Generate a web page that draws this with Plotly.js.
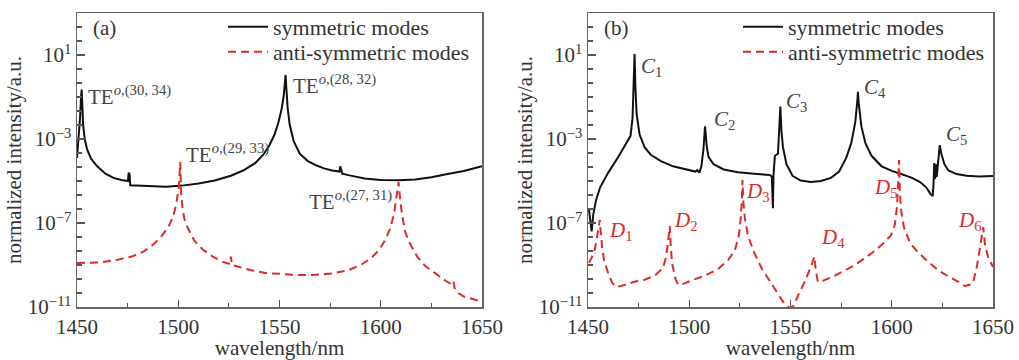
<!DOCTYPE html>
<html>
<head>
<meta charset="utf-8">
<script src="https://cdn.plot.ly/plotly-3.0.1.min.js"></script>
<style>html,body{margin:0;padding:0;background:#fff;}#chart{width:1019px;height:360px;}</style>
</head>
<body>
<div id="chart"></div>
<script>
// ---- Panel (a): symmetric modes (wavelength nm, log10 intensity)
var symA_x = [1450.0,1450.8,1451.5,1452.0,1452.3,1452.6,1453.0,1453.8,1455,1457,1460,1464,1468,1472,1475.2,1475.5,1476.0,1476.3,1480,1486,1494,1502,1510,1518,1526,1532,1538,1542,1545,1547.5,1549.5,1551,1552,1552.6,1553,1553.4,1554,1555,1557,1560,1564,1568,1572,1576,1579.6,1580,1580.5,1581,1584,1592,1600,1609,1617,1625,1633,1641,1650];
var symA_log = [-3.9,-3.0,-2.0,-1.0,-0.65,-1.3,-2.3,-3.0,-3.5,-3.95,-4.3,-4.65,-4.85,-4.95,-5.0,-4.6,-4.7,-5.2,-5.22,-5.25,-5.27,-5.22,-5.12,-4.98,-4.75,-4.5,-4.15,-3.75,-3.3,-2.8,-2.2,-1.6,-1.0,-0.4,0.05,-0.6,-1.5,-2.3,-3.1,-3.7,-4.05,-4.25,-4.4,-4.5,-4.55,-4.3,-4.45,-4.65,-4.72,-4.88,-4.95,-4.97,-4.93,-4.82,-4.67,-4.52,-4.3];

// ---- Panel (a): anti-symmetric modes
var antiA_x = [1450,1455,1461,1470,1477,1483,1488,1492,1495,1497.5,1499,1500.3,1501,1501.4,1502,1503,1505,1508,1512,1517,1522,1525.5,1526,1526.5,1530,1536,1543,1552,1560,1568,1576,1584,1590,1595,1599,1602,1604.5,1606.5,1607.8,1608.8,1609.5,1610.5,1612,1614,1618,1622,1627,1632,1635.5,1636,1636.5,1638.5,1641,1645,1650];
var antiA_log = [-8.9,-8.9,-8.88,-8.75,-8.6,-8.35,-8.0,-7.6,-7.2,-6.7,-6.1,-5.3,-4.1,-5.5,-6.2,-6.8,-7.3,-7.85,-8.25,-8.6,-8.85,-8.95,-8.6,-9.0,-9.1,-9.25,-9.38,-9.45,-9.48,-9.47,-9.4,-9.25,-9.0,-8.7,-8.3,-7.85,-7.3,-6.6,-5.8,-5.05,-5.8,-6.6,-7.4,-7.9,-8.6,-9.05,-9.4,-9.75,-9.95,-9.8,-10.1,-10.35,-10.5,-10.62,-10.75];

// ---- Panel (b): symmetric modes
var symB_x = [1450.4,1451.2,1451.8,1452.6,1454,1456,1460,1465,1469,1471,1472,1472.6,1473,1473.4,1474,1475.5,1478,1481,1486,1492,1498,1503,1504,1505,1506,1507,1507.8,1508.6,1509.5,1512,1517,1524,1532,1540,1540.8,1541.3,1541.6,1542.3,1543.8,1544.5,1545,1545.5,1546.3,1548,1551,1555,1560,1565,1570,1574,1577.5,1580,1582,1583,1583.3,1583.7,1585,1587,1590,1595,1600,1605,1610,1614,1617,1619,1620.2,1620.6,1621,1621.4,1621.8,1622.2,1623,1623.7,1624.5,1626,1628,1632,1637,1643,1650];
var symB_log = [-6.3,-7.0,-7.4,-6.6,-5.9,-5.3,-4.6,-3.85,-3.2,-2.85,-2.0,-0.5,1.05,-0.5,-1.8,-2.8,-3.4,-3.75,-4.05,-4.3,-4.45,-4.55,-4.48,-4.6,-4.3,-3.5,-2.4,-3.3,-3.85,-4.2,-4.45,-4.58,-4.65,-4.72,-4.8,-6.3,-4.7,-3.8,-3.7,-2.5,-1.45,-2.6,-3.4,-4.2,-4.75,-4.98,-5.05,-5.0,-4.85,-4.55,-3.9,-3.2,-2.2,-1.2,-0.75,-1.3,-2.4,-3.2,-3.8,-4.3,-4.52,-4.68,-4.85,-5.05,-5.3,-5.6,-5.72,-5.2,-4.15,-4.9,-4.2,-4.8,-3.9,-3.3,-3.7,-4.2,-4.5,-4.67,-4.75,-4.78,-4.76];

// ---- Panel (b): anti-symmetric modes
var antiB_x = [1450.5,1452,1453.5,1454.5,1455.3,1455.8,1456.3,1457,1458,1460,1462,1464,1468,1473,1478,1483,1487,1488.3,1489,1490,1490.4,1490.8,1491.5,1493,1494.5,1497,1502,1508,1514,1519,1522.5,1524.5,1525.5,1526,1526.3,1526.7,1527.5,1529,1532,1536,1540,1544,1547,1549.5,1551.5,1554,1557,1560,1561.8,1562.4,1563.5,1566,1571,1576,1581,1587,1592,1596,1599.5,1601.5,1602.6,1603.2,1603.6,1604,1604.6,1606,1609,1613,1618,1623,1628,1633,1636,1638,1640,1642,1643.5,1644.5,1645.2,1646,1647.5,1650];
var antiB_log = [-8.9,-8.6,-8.2,-7.7,-7.2,-6.85,-7.6,-8.2,-8.8,-9.4,-9.85,-10.05,-9.95,-9.8,-9.7,-9.5,-9.15,-8.7,-8.3,-7.5,-7.15,-8.0,-8.9,-9.6,-9.95,-9.9,-9.7,-9.5,-9.2,-8.8,-8.3,-7.6,-6.7,-5.8,-4.95,-6.0,-6.8,-7.6,-8.4,-9.2,-9.8,-10.4,-10.85,-11.05,-10.95,-10.4,-9.8,-9.1,-8.6,-9.2,-9.8,-9.75,-9.55,-9.3,-9.05,-8.65,-8.3,-7.95,-7.6,-7.1,-6.2,-5.0,-4.0,-5.5,-6.4,-7.2,-7.95,-8.4,-8.85,-9.25,-9.55,-9.8,-10.0,-9.95,-9.9,-9.1,-8.3,-7.6,-7.2,-8.0,-8.6,-9.1];

// ---- Tick labels
var xTickVals = [1450,1500,1550,1600,1650];
var xTickText = ['1450','1500','1550','1600','1650'];
var yMajorExp = [1,-3,-7,-11];
var yTickText = ['10<sup>1</sup>','10<sup>\u22123</sup>','10<sup>\u22127</sup>','10<sup>\u221211</sup>'];

// ---- Annotation labels
var teLabels = ['TE<sup><i>o</i>,(30, 34)</sup>','TE<sup><i>o</i>,(28, 32)</sup>','TE<sup><i>o</i>,(29, 33)</sup>','TE<sup><i>o</i>,(27, 31)</sup>'];
var teX = [1454.6, 1555.6, 1502.8, 1563.5];
var teY = [-0.95, -0.4, -3.67, -5.95];
var cLabels = ['<i>C</i><sub>1</sub>','<i>C</i><sub>2</sub>','<i>C</i><sub>3</sub>','<i>C</i><sub>4</sub>','<i>C</i><sub>5</sub>'];
var cX = [1475.3, 1511.3, 1547.0, 1585.5, 1626.0];
var cY = [0.43, -2.1, -1.24, -0.57, -2.8];
var dLabels = ['<i>D</i><sub>1</sub>','<i>D</i><sub>2</sub>','<i>D</i><sub>3</sub>','<i>D</i><sub>4</sub>','<i>D</i><sub>5</sub>','<i>D</i><sub>6</sub>'];
var dX = [1459.5, 1491.6, 1527.2, 1564.2, 1590.3, 1631.6];
var dY = [-7.4, -6.9, -5.5, -7.7, -5.35, -6.9];

function pw(a){ return a.map(function(v){ return Math.pow(10, v); }); }

var FONT = 'Liberation Serif, Times New Roman, serif';
var BLACK = '#111111';
var RED = '#dd2a2a';
var GRAY = '#444444';

var traces = [
  {x: symA_x, y: pw(symA_log), xaxis:'x', yaxis:'y', mode:'lines', name:'symmetric modes',
   line:{color:BLACK, width:2}, legend:'legend'},
  {x: antiA_x, y: pw(antiA_log), xaxis:'x', yaxis:'y', mode:'lines', name:'anti-symmetric modes',
   line:{color:RED, width:2, dash:'8px,5px'}, legend:'legend2'},
  {x: symB_x, y: pw(symB_log), xaxis:'x2', yaxis:'y2', mode:'lines', name:'symmetric modes',
   line:{color:BLACK, width:2}, legend:'legend3'},
  {x: antiB_x, y: pw(antiB_log), xaxis:'x2', yaxis:'y2', mode:'lines', name:'anti-symmetric modes',
   line:{color:RED, width:2, dash:'8px,5px'}, legend:'legend4'}
];

var yMinor = [];
for (var i = 0; i < yMajorExp.length - 1; i++) {
  for (var k = 1; k < 6; k++) yMinor.push(Math.pow(10, yMajorExp[i+1] + k*4/6));
}
for (var k2 = 1; k2 < 3; k2++) yMinor.push(Math.pow(10, 1 + k2*4/6));

function xAxis(dom, anchor) {
  return {domain: dom, anchor: anchor, range:[1450,1650], tickmode:'array', tickvals:xTickVals, ticktext:xTickText,
    ticks:'inside', ticklen:7, tickwidth:1.2, tickcolor:'#555', showline:true, mirror:true, linecolor:'#666', linewidth:1.5,
    showgrid:false, zeroline:false, tickfont:{family:FONT, size:21, color:'#333'},
    minor:{tickvals:[1475,1525,1575,1625], ticks:'inside', ticklen:4, tickcolor:'#555', showgrid:false},
    title:{text:'wavelength/nm', font:{family:FONT, size:21, color:'#333'}, standoff:4}};
}
function yAxis(anchor) {
  return {type:'log', anchor: anchor, range:[-11,3], tickmode:'array', tickvals:pw(yMajorExp), ticktext:yTickText,
    ticks:'inside', ticklen:8, tickwidth:1.2, tickcolor:'#555', showline:true, mirror:true, linecolor:'#666', linewidth:1.5,
    showgrid:false, zeroline:false, tickfont:{family:FONT, size:21, color:'#333'},
    minor:{tickvals:yMinor, ticks:'inside', ticklen:5, tickcolor:'#555', showgrid:false},
    title:{text:'normalized intensity/a.u.', font:{family:FONT, size:21, color:'#333'}, standoff:0}};
}

var ann = [];
ann.push({xref:'x', yref:'y', x:1456.9, y:2.29, text:'(a)', showarrow:false, xanchor:'left', yanchor:'middle', font:{family:FONT, size:21, color:'#333'}});
ann.push({xref:'x2', yref:'y2', x:1456.9, y:2.29, text:'(b)', showarrow:false, xanchor:'left', yanchor:'middle', font:{family:FONT, size:21, color:'#333'}});
for (var t = 0; t < teLabels.length; t++) {
  ann.push({xref:'x', yref:'y', x:teX[t], y:teY[t], text:teLabels[t], showarrow:false, xanchor:'left', yanchor:'middle',
    font:{family:FONT, size:21, color:GRAY}});
}
for (var c = 0; c < cLabels.length; c++) {
  ann.push({xref:'x2', yref:'y2', x:cX[c], y:cY[c], text:cLabels[c], showarrow:false, xanchor:'left', yanchor:'middle',
    font:{family:FONT, size:21, color:GRAY}});
}
for (var d = 0; d < dLabels.length; d++) {
  ann.push({xref:'x2', yref:'y2', x:dX[d], y:dY[d], text:dLabels[d], showarrow:false, xanchor:'left', yanchor:'middle',
    font:{family:FONT, size:21, color:RED}});
}

var legendBase = {font:{family:FONT, size:22, color:'#333'}, bgcolor:'rgba(0,0,0,0)', borderwidth:0,
  xanchor:'left', yanchor:'middle', itemwidth:40};
var row1 = 1 - (27-13)/294, row2 = 1 - (52-13)/294;

var layout = {
  width:1019, height:360, margin:{l:0, r:0, t:13, b:53}, paper_bgcolor:'#fff', plot_bgcolor:'#fff',
  xaxis: xAxis([77/1019, 482/1019], 'y'),
  yaxis: yAxis('x'),
  xaxis2: xAxis([588/1019, 993/1019], 'y2'),
  yaxis2: yAxis('x2'),
  showlegend:true,
  legend: Object.assign({}, legendBase, {x:223/1019, y:row1}),
  legend2: Object.assign({}, legendBase, {x:223/1019, y:row2}),
  legend3: Object.assign({}, legendBase, {x:738/1019, y:row1}),
  legend4: Object.assign({}, legendBase, {x:738/1019, y:row2}),
  annotations: ann
};

Plotly.newPlot('chart', traces, layout, {staticPlot:true, displayModeBar:false});
</script>
</body>
</html>
